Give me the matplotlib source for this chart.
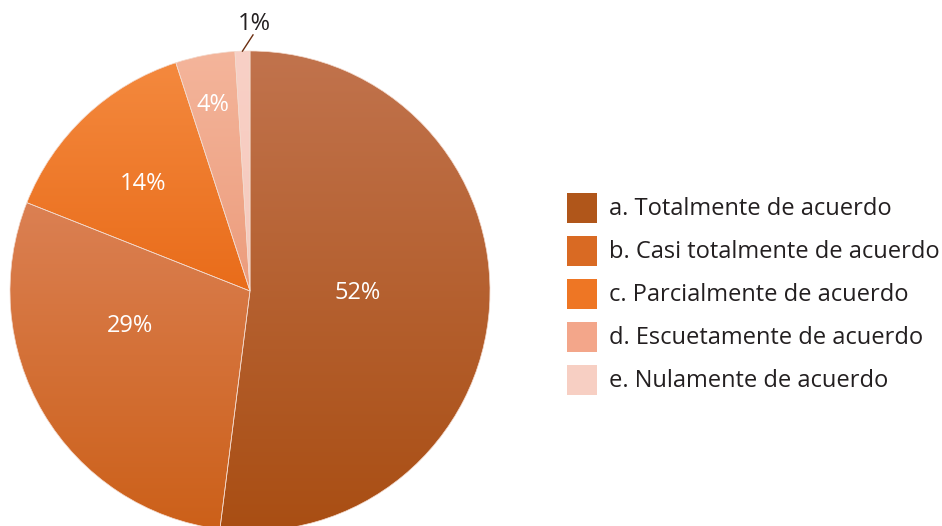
import numpy as np
import matplotlib.pyplot as plt
from matplotlib.colors import LinearSegmentedColormap
from matplotlib.patches import Rectangle

plt.rcParams['font.family'] = ['Open Sans', 'DejaVu Sans']

# data
categories = ["a. Totalmente de acuerdo", "b. Casi totalmente de acuerdo",
              "c. Parcialmente de acuerdo", "d. Escuetamente de acuerdo",
              "e. Nulamente de acuerdo"]
values = [52, 29, 14, 4, 1]
pct_labels = ["52%", "29%", "14%", "4%", "1%"]

# colours: legend swatch, gradient top, gradient bottom
base_colors = ["#B0561A", "#D96A23", "#EE7624", "#F3A68A", "#F7CFC3"]
top_colors = ["#C1734D", "#DB8053", "#F4893E", "#F4B59B", "#F8D0C6"]
bottom_colors = ["#A94E13", "#CC6019", "#E96C1A", "#EC9C7C", "#F6CABD"]

# label placement (radius, angle in degrees)
label_pos = [(0.45, -1), (0.52, -163.7), (0.63, 135), (0.79, 101.3)]

W, H = 942, 526
fig = plt.figure(figsize=(W / 100, H / 100), dpi=100)
# pie centre ~ (250, 291) px, radius ~240 px
ax = fig.add_axes([10 / W, (526 - 531) / H, 480 / W, 480 / H])

wedges, _ = ax.pie(values, startangle=90, counterclock=False, radius=1,
                   colors=base_colors)

grad = np.linspace(0, 1, 256).reshape(-1, 1)
for w, ctop, cbot in zip(wedges, top_colors, bottom_colors):
    ext = w.get_path().get_extents()
    cmap = LinearSegmentedColormap.from_list("g", [cbot, ctop])
    im = ax.imshow(grad, cmap=cmap, origin="lower", aspect="auto",
                   extent=[ext.x0, ext.x1, ext.y0, ext.y1], zorder=1)
    im.set_clip_path(w)
    w.set_facecolor("none")
    w.set_edgecolor("#F3D9CC")
    w.set_linewidth(0.5)
    w.set_zorder(2)

for (r, ang), txt in zip(label_pos, pct_labels[:4]):
    a = np.deg2rad(ang)
    ax.text(r * np.cos(a), r * np.sin(a), txt, color="white", fontsize=17,
            ha="center", va="center", zorder=3)

# small slice label outside with leader line
e_mid = np.deg2rad(91.8)
ax.plot([np.cos(e_mid), 0.0125], [np.sin(e_mid), 1.067], color="#6B2E10",
        lw=1, clip_on=False, zorder=3)
ax.text(0.017, 1.112, pct_labels[4], ha="center", va="center",
        fontsize=17, color="#231F20", clip_on=False, zorder=3)

ax.set_xlim(-1, 1)
ax.set_ylim(-1, 1)
ax.set_aspect("equal")
ax.axis("off")

# legend, drawn by hand: 30 px swatches, 43 px row step
for i, (lab, c) in enumerate(zip(categories, base_colors)):
    yc = 208 + 43 * i
    fig.add_artist(Rectangle((567 / W, 1 - (yc + 15) / H), 30 / W, 30 / H,
                             transform=fig.transFigure, facecolor=c,
                             edgecolor="none"))
    fig.text(609 / W, 1 - (yc + 1) / H, lab, fontsize=17, color="#231F20",
             ha="left", va="center")

fig.savefig("out.png", dpi=100)
